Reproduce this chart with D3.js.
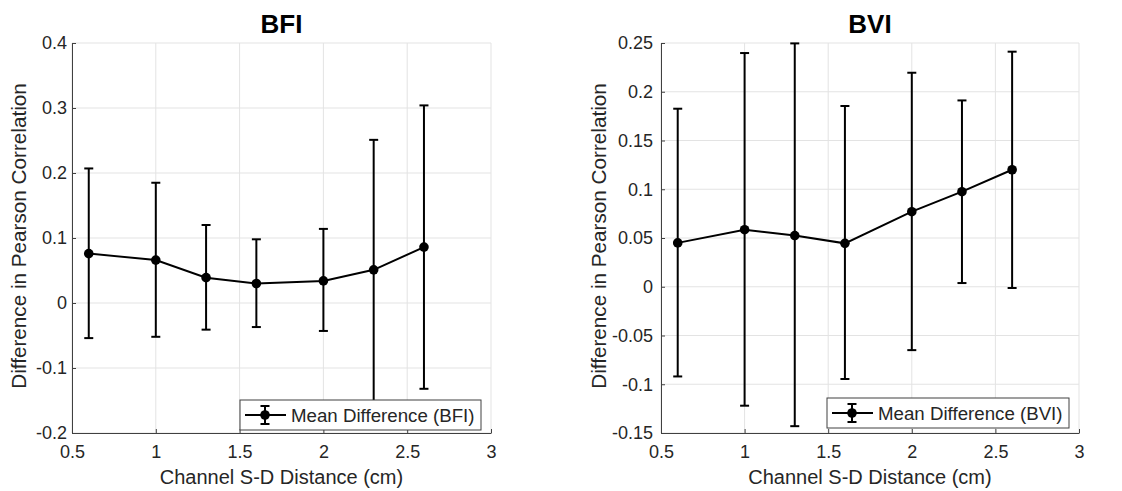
<!DOCTYPE html>
<html>
<head>
<meta charset="utf-8">
<script src="https://cdn.jsdelivr.net/npm/d3@7"></script>
<style>
  html, body { margin: 0; padding: 0; background: #fff; }
  svg { display: block; font-family: "Liberation Sans", Arial, Helvetica, sans-serif; }
  .grid line { stroke: #e3e3e3; stroke-width: 1; }
  .axis path, .axis line { stroke: #404040; }
  .axis text { fill: #262626; font-size: 18px; }
  .lbl { fill: #262626; font-size: 20px; }
  .ttl { fill: #000; font-size: 26px; font-weight: bold; }
</style>
</head>
<body>
<svg id="chart" width="1122" height="491"></svg>
<script>
// distances (cm)
const xDist = [0.6, 1, 1.3, 1.6, 2, 2.3, 2.6];

// BFI: mean difference and error bar ends
const bfiMean  = [0.076, 0.066, 0.039, 0.030, 0.034, 0.051, 0.086];
const bfiUpper = [0.207, 0.185, 0.120, 0.098, 0.114, 0.251, 0.304];
const bfiLower = [-0.054, -0.052, -0.041, -0.037, -0.043, -0.16, -0.132];

// BVI
const bviMean  = [0.045, 0.0585, 0.0525, 0.0445, 0.077, 0.0975, 0.120];
const bviUpper = [0.1826, 0.2397, 0.2496, 0.1854, 0.2195, 0.1911, 0.2411];
const bviLower = [-0.092, -0.122, -0.143, -0.0946, -0.065, 0.0038, -0.0013];

const xTicks = [0.5, 1, 1.5, 2, 2.5, 3];
const bfiTicks = [-0.2, -0.1, 0, 0.1, 0.2, 0.3, 0.4];
const bviTicks = [-0.15, -0.1, -0.05, 0, 0.05, 0.1, 0.15, 0.2, 0.25];

const svg = d3.select('#chart');
const fmt = d => String(d); // plain hyphen minus, like MATLAB

function panel(cfg) {
  const { left, right, top, bottom } = cfg.box;
  const x = d3.scaleLinear().domain([0.5, 3]).range([left, right]);
  const y = d3.scaleLinear().domain(cfg.yDomain).range([bottom, top]);
  const g = svg.append('g');

  // grid
  const grid = g.append('g').attr('class', 'grid');
  grid.selectAll('.gx').data(xTicks).join('line')
    .attr('x1', d => x(d)).attr('x2', d => x(d))
    .attr('y1', top).attr('y2', bottom);
  grid.selectAll('.gy').data(cfg.yTicks).join('line')
    .attr('x1', left).attr('x2', right)
    .attr('y1', d => y(d)).attr('y2', d => y(d));

  // axes (ticks inside, box off)
  g.append('g').attr('class', 'axis')
    .attr('transform', `translate(0,${bottom})`)
    .call(d3.axisBottom(x).tickValues(xTicks).tickFormat(fmt).tickSizeInner(-4).tickSizeOuter(0).tickPadding(12))
    .call(a => a.selectAll('text').attr('dy', '0.71em'));
  g.append('g').attr('class', 'axis')
    .attr('transform', `translate(${left},0)`)
    .call(d3.axisLeft(y).tickValues(cfg.yTicks).tickFormat(fmt).tickSizeInner(-4).tickSizeOuter(0).tickPadding(cfg.yPad));

  // data
  const pts = xDist.map((d, i) => ({ x: d, m: cfg.mean[i], lo: cfg.lower[i], hi: cfg.upper[i] }));
  const clipId = 'clip-' + cfg.name;
  svg.append('clipPath').attr('id', clipId).append('rect')
    .attr('x', left).attr('y', top - 1).attr('width', right - left).attr('height', bottom - top + 1);
  const plot = g.append('g').attr('clip-path', `url(#${clipId})`);

  const eb = plot.append('g').attr('stroke', '#000').attr('stroke-width', 2);
  eb.selectAll('.v').data(pts).join('line')
    .attr('x1', d => x(d.x)).attr('x2', d => x(d.x))
    .attr('y1', d => y(d.lo)).attr('y2', d => y(d.hi));
  ['lo', 'hi'].forEach(k => {
    eb.selectAll('.c' + k).data(pts).join('line')
      .attr('x1', d => x(d.x) - 4.5).attr('x2', d => x(d.x) + 4.5)
      .attr('y1', d => y(d[k])).attr('y2', d => y(d[k]));
  });

  plot.append('path').datum(pts)
    .attr('fill', 'none').attr('stroke', '#000').attr('stroke-width', 2)
    .attr('d', d3.line().x(d => x(d.x)).y(d => y(d.m)));
  plot.selectAll('circle').data(pts).join('circle')
    .attr('cx', d => x(d.x)).attr('cy', d => y(d.m)).attr('r', 4.8).attr('fill', '#000');

  // title and labels
  g.append('text').attr('class', 'ttl').attr('text-anchor', 'middle')
    .attr('x', (left + right) / 2).attr('y', 33).text(cfg.name);
  g.append('text').attr('class', 'lbl').attr('text-anchor', 'middle')
    .attr('x', (left + right) / 2).attr('y', 484).text('Channel S-D Distance (cm)');
  g.append('text').attr('class', 'lbl').attr('text-anchor', 'middle')
    .style('font-size', '20.7px')
    .attr('transform', `translate(${cfg.yLabelX},${(top + bottom) / 2 - 2}) rotate(-90)`)
    .text('Difference in Pearson Correlation');

  // legend
  const L = cfg.legend;
  const lg = g.append('g').attr('transform', `translate(${L.x},${L.y})`);
  lg.append('rect').attr('width', L.w).attr('height', L.h)
    .attr('fill', '#fff').attr('stroke', '#404040').attr('stroke-width', 1);
  const cy = L.h / 2;
  lg.append('line').attr('x1', 5).attr('x2', 46).attr('y1', cy).attr('y2', cy)
    .attr('stroke', '#000').attr('stroke-width', 2);
  lg.append('line').attr('x1', 25).attr('x2', 25).attr('y1', cy - 9).attr('y2', cy + 9)
    .attr('stroke', '#000').attr('stroke-width', 2);
  [cy - 9, cy + 9].forEach(v => lg.append('line').attr('x1', 20.5).attr('x2', 29.5)
    .attr('y1', v).attr('y2', v).attr('stroke', '#000').attr('stroke-width', 2));
  lg.append('circle').attr('cx', 25).attr('cy', cy).attr('r', 4.8).attr('fill', '#000');
  lg.append('text').attr('class', 'lbl').attr('x', 51).attr('y', cy).attr('dy', '0.35em')
    .style('font-size', '18.7px').text(`Mean Difference (${cfg.name})`);
}

panel({
  name: 'BFI', box: { left: 72, right: 491, top: 43, bottom: 433 },
  yDomain: [-0.2, 0.4], yTicks: bfiTicks,
  mean: bfiMean, lower: bfiLower, upper: bfiUpper,
  yLabelX: 26, yPad: 5, legend: { x: 240, y: 400, w: 241, h: 30 }
});
panel({
  name: 'BVI', box: { left: 661, right: 1079, top: 43, bottom: 433 },
  yDomain: [-0.15, 0.25], yTicks: bviTicks,
  mean: bviMean, lower: bviLower, upper: bviUpper,
  yLabelX: 606, yPad: 8, legend: { x: 827, y: 398, w: 242, h: 30 }
});
</script>
</body>
</html>
